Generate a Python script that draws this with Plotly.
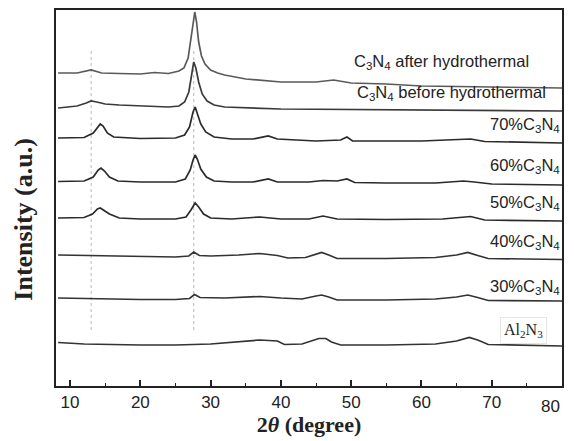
import plotly.graph_objects as go

# ---- data (2theta in degrees, intensity in arbitrary stacked units) ----
x_after = [8.3, 11, 13, 14.5, 17, 20, 22, 24, 25.5, 26.2, 26.8, 27.2, 27.5, 27.75, 28.0, 28.3, 28.7, 29.2, 30, 31, 32, 35, 40, 45, 47.5, 50, 55, 60, 70, 80]
y_after = [313, 313, 316, 313, 312.5, 312, 313.5, 312.5, 315, 318, 328, 348, 366, 374, 364, 344, 330, 322, 316, 313, 311, 307, 304, 304, 306, 303, 302, 300, 299, 298]

x_before = [8.3, 11, 12.3, 13, 13.8, 15, 17, 20, 24, 25.5, 26.3, 26.9, 27.3, 27.6, 27.9, 28.3, 28.8, 29.5, 30.5, 32, 40, 60, 80]
y_before = [278, 280, 283, 285, 284, 282, 281, 280, 279, 280, 284, 294, 312, 324, 318, 304, 292, 285, 281, 279, 277, 276, 275]

x_70 = [8.3, 12, 13.3, 14.0, 14.3, 14.7, 15.3, 16.2, 20, 25, 26.3, 27.0, 27.5, 27.8, 28.1, 28.6, 29.3, 30.5, 33, 36, 38.2, 39.5, 45, 48.5, 49.4, 50.2, 60, 65, 67, 69, 80]
y_70 = [248, 248.5, 253, 260, 262, 260, 253, 249, 247.5, 248, 251, 259, 274, 279, 273, 262, 254, 249, 247, 247, 250, 247, 245, 246, 249, 245, 245, 246.5, 247, 244.5, 243]

x_60 = [8.3, 12, 13.3, 14.0, 14.4, 14.9, 15.6, 16.8, 20, 25, 26.4, 27.1, 27.5, 27.8, 28.1, 28.6, 29.4, 30.5, 33, 36, 38.2, 39.5, 44, 46, 48, 49.4, 50.5, 55, 62, 66, 67.5, 70, 80]
y_60 = [204.5, 205, 209, 216, 218, 215, 209, 205, 204, 204, 207, 216, 226, 231, 227, 217, 209, 205, 204, 204, 207, 204, 204, 205.5, 205, 207, 203.5, 203, 203, 205, 204, 202, 201]

x_50 = [8.3, 12, 13.2, 13.9, 14.3, 14.8, 15.6, 17, 20, 25, 26.5, 27.2, 27.8, 28.3, 29, 30, 33, 37, 40, 44, 46, 48, 55, 63, 67, 69, 80]
y_50 = [168, 168.5, 172, 177, 178, 176, 172, 168, 167, 167, 169, 176, 183, 179, 172, 168, 167, 169, 167, 167, 170, 167, 166.5, 167, 169.5, 166, 165]

x_40 = [8.3, 15, 20, 25, 26.9, 27.6, 28.4, 30, 34, 37, 39.5, 41, 43.5, 45.0, 45.8, 46.8, 48, 55, 62, 65, 66.6, 68, 69.5, 80]
y_40 = [131, 130, 129.5, 129, 130, 134, 130.5, 130, 131, 132.5, 130.5, 128, 128.5, 132, 133.5, 131, 127.5, 127.5, 128.5, 131, 133.5, 130.5, 127.5, 126.5]

x_30 = [8.3, 15, 20, 25, 27.0, 27.7, 28.5, 32, 37, 40, 43, 45.0, 45.8, 46.8, 48, 55, 62, 65, 66.6, 68, 69.5, 80]
y_30 = [88, 87, 86.5, 86.5, 87.5, 91.5, 88.5, 88, 89.5, 88, 87, 90, 91, 89, 86, 86, 87, 89, 91, 88.5, 85.5, 85]

x_al = [8.3, 12, 20, 25, 30, 34, 37, 39.5, 40.5, 43, 44.7, 45.4, 46.4, 47.2, 48.5, 55, 62, 65, 66.8, 68, 69.5, 80]
y_al = [43.5, 42, 41, 41, 42, 44, 46, 45, 41.5, 42, 45.5, 47.5, 47.5, 44, 41, 41, 42, 45, 48.5, 46, 41.5, 40]

series = [
    ("C3N4 after hydrothermal", x_after, y_after, "#5a5a5a"),
    ("C3N4 before hydrothermal", x_before, y_before, "#3a3a3a"),
    ("70%C3N4", x_70, y_70, "#2a2a2a"),
    ("60%C3N4", x_60, y_60, "#2a2a2a"),
    ("50%C3N4", x_50, y_50, "#2a2a2a"),
    ("40%C3N4", x_40, y_40, "#333333"),
    ("30%C3N4", x_30, y_30, "#333333"),
    ("Al2N3", x_al, y_al, "#333333"),
]

labels = [
    "C<sub>3</sub>N<sub>4</sub> after hydrothermal",
    "C<sub>3</sub>N<sub>4</sub> before hydrothermal",
    "70%C<sub>3</sub>N<sub>4</sub>",
    "60%C<sub>3</sub>N<sub>4</sub>",
    "50%C<sub>3</sub>N<sub>4</sub>",
    "40%C<sub>3</sub>N<sub>4</sub>",
    "30%C<sub>3</sub>N<sub>4</sub>",
    "Al<sub>2</sub>N<sub>3</sub>",
]
label_x = [75.4, 77.9, 79.85, 79.85, 79.85, 79.85, 79.85, 77.9]
label_y = [324, 293, 261, 220, 183, 144, 99, 56]

tick_vals = [10, 20, 30, 40, 50, 60, 70]
last_tick = "80"
minor_vals = [15, 25, 35, 45, 55, 65, 75]

ref_lines_x = [13.0, 27.6]

fig = go.Figure()
for name, xs, ys, col in series:
    fig.add_trace(go.Scatter(x=xs, y=ys, mode="lines", name=name,
                             line=dict(color=col, width=1.7), showlegend=False))

for xv in ref_lines_x:
    fig.add_shape(type="line", x0=xv, x1=xv, y0=56, y1=338, xref="x", yref="y",
                  line=dict(color="#b8b8b8", width=1, dash="dot"), layer="below")

for i, (txt, lx, ly) in enumerate(zip(labels, label_x, label_y)):
    is_al = i == len(labels) - 1
    fig.add_annotation(
        x=lx, y=ly, text=txt, showarrow=False, xanchor="right", yanchor="middle",
        font=dict(family="Liberation Serif" if is_al else "Liberation Sans",
                  size=16 if is_al else 16.5, color="#222222"),
        bgcolor="white" if is_al else None,
        bordercolor="#e6e6e6" if is_al else None,
        borderpad=3 if is_al else 0,
    )

# last x tick label sits flush with the right frame in the reference
fig.add_annotation(x=1, y=0, xref="paper", yref="paper", text=last_tick, showarrow=False,
                   xanchor="right", yanchor="middle", yshift=-20,
                   font=dict(family="Liberation Sans", size=17, color="#222"))

fig.add_annotation(x=-0.066, y=0.444, xref="paper", yref="paper", text="<b>Intensity (a.u.)</b>",
                   textangle=-90, showarrow=False, xanchor="center", yanchor="middle",
                   font=dict(family="Liberation Serif", size=26, color="#222222"))

fig.update_layout(
    width=574, height=441,
    margin=dict(l=56, r=12, t=10, b=55, autoexpand=False),
    paper_bgcolor="white", plot_bgcolor="white",
    xaxis=dict(range=[8, 80], tickvals=tick_vals, automargin=False,
               ticks="inside", ticklen=6, tickwidth=1.5, tickcolor="#222",
               minor=dict(tickvals=minor_vals, ticks="inside", ticklen=3, tickwidth=1.2, tickcolor="#222"),
               showline=True, linecolor="#222", linewidth=1.5, mirror=True,
               showgrid=False, zeroline=False,
               tickfont=dict(family="Liberation Sans", size=17, color="#222"),
               title=dict(text="<b>2<i>θ</i> (degree)</b>", standoff=2,
                          font=dict(family="Liberation Serif", size=22, color="#222"))),
    yaxis=dict(range=[0, 376], showticklabels=False, ticks="", automargin=False,
               showline=True, linecolor="#222", linewidth=1.5, mirror=True,
               showgrid=False, zeroline=False),
)

fig.write_html("out.html", config={"displayModeBar": False},
               post_script="document.body.style.margin='0';document.body.style.overflow='hidden';")
